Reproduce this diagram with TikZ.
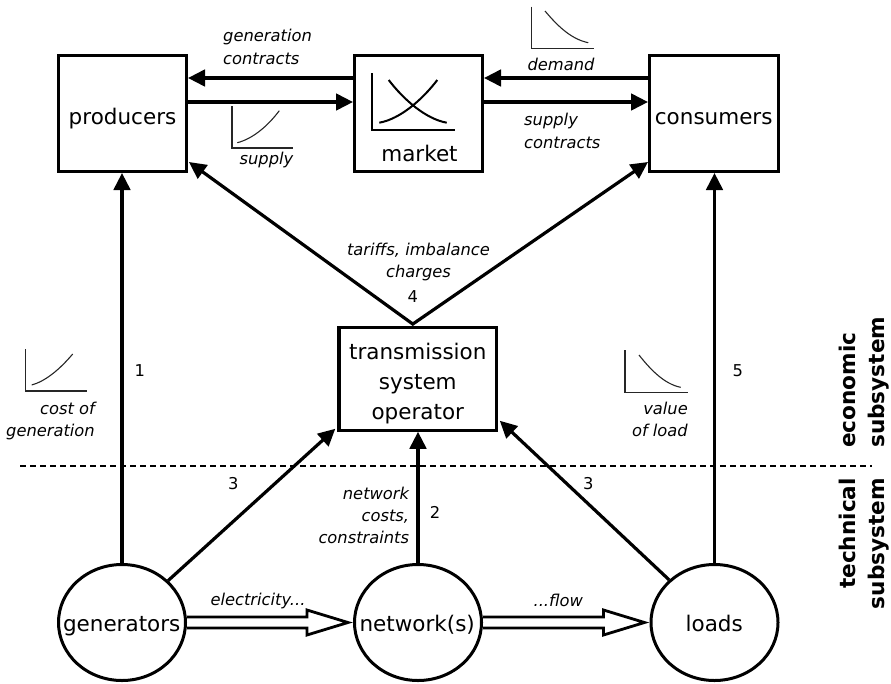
\documentclass[tikz,border=0pt]{standalone}
\usepackage{fontspec}
\setmainfont{DejaVu Sans}[ItalicFont={DejaVu Sans Oblique},BoldFont={DejaVu Sans Bold}]
\usetikzlibrary{arrows.meta,calc,shapes.geometric}

\begin{document}
\begin{tikzpicture}[x=1pt,y=-1pt,
  box/.style={draw, line width=3.2pt, minimum width=127.8pt, minimum height=115.8pt, inner sep=0pt},
  blob/.style={draw, ellipse, line width=3pt, minimum width=127pt, minimum height=116pt, inner sep=0pt},
  lbl/.style={font=\fontsize{21.5}{30}\selectfont, inner sep=0pt},
  note/.style={font=\fontsize{16.3}{22.3}\selectfont\itshape, inner sep=0pt},
  num/.style={font=\fontsize{16.3}{20}\selectfont, inner sep=0pt},
  side/.style={font=\fontsize{21.6}{29.5}\selectfont\bfseries, inner sep=0pt, rotate=90},
  tip/.tip={Triangle[length=17pt,width=16.5pt]},
  arr/.style={line width=3.2pt, -tip},
  flow/.style={line width=2.8pt, line join=miter, miter limit=10},
  axis/.style={line width=1.1pt, black!85},
  curve/.style={line width=1.1pt, black!85},
  mkt/.style={line width=2pt},
]
\useasboundingbox (0,0) rectangle (891,683);

% boxes of the economic subsystem
\node[box] (prod) at (122.5,113.5) {};
\node[box] (mkt) at (418.5,113.5) {};
\node[box, minimum width=128.8pt] (cons) at (714,113.5) {};
\node[box, minimum width=157.8pt, minimum height=102.5pt] (tso) at (417.8,378.9) {};

% technical components
\node[blob] (gen) at (122,622.5) {};
\node[blob] (net) at (418,622.5) {};
\node[blob] (loads) at (714.5,622.5) {};

% main labels
\node[lbl, anchor=base] (prodtxt) at (122.5,124) {producers};
\node[lbl, anchor=base] (mkttxt) at (419.5,161.7) {market};
\node[lbl, anchor=base] (constxt) at (713.7,124) {consumers};
\node[lbl, anchor=north, align=center] (tsotxt) at (417.8,343) {transmission\\system\\operator};
\node[lbl, anchor=base] (gentxt) at (121.7,631.7) {generators};
\node[lbl, anchor=base] (nettxt) at (417.2,631.7) {network(s)};
\node[lbl, anchor=base] (loadtxt) at (714.2,631.7) {loads};

% contract flows between producers, market and consumers
\draw[arr] ($(mkt.west)+(0,-35.5)$) -- ($(prod.east)+(0,-35.5)$);
\draw[arr] ($(prod.east)+(0,-11.5)$) -- ($(mkt.west)+(0,-11.5)$);
\draw[arr] ($(cons.west)+(0,-35.5)$) -- ($(mkt.east)+(0,-35.5)$);
\draw[arr] ($(mkt.east)+(0,-11.5)$) -- ($(cons.west)+(0,-11.5)$);

% vertical links
\draw[arr] (gen.north) -- (gen.north |- prod.south);
\draw[arr] (loads.north) -- (loads.north |- cons.south);
\draw[arr] (net.north) -- (net.north |- tso.south);

% TSO towards producers and consumers
\coordinate (apex) at ($(tso.north)+(-5,-2)$);
\draw[line width=3.2pt, tip-tip, line join=miter]
  ($(prod.south east)+(1,-11)$) -- (apex) -- ($(cons.south west)+(0,-11)$);

% generators and loads towards the TSO
\draw[arr] (gen) -- ($(tso.south west)+(-2,-3)$);
\draw[arr] (loads) -- ($(tso.south east)+(1.5,-11)$);

% physical electricity flow (hollow double arrows)
\draw[flow] ($(gen.east)+(0,-5.5)$) -- ($(net.west)+(-46,-5.5)$) -- ($(net.west)+(-46,-12.5)$)
  -- ($(net.west)+(-5,0)$) -- ($(net.west)+(-46,12.5)$) -- ($(net.west)+(-46,5.5)$)
  -- ($(gen.east)+(0,5.5)$);
\draw[flow] ($(net.east)+(0,-5.5)$) -- ($(loads.west)+(-46,-5.5)$) -- ($(loads.west)+(-46,-12.5)$)
  -- ($(loads.west)+(-5,0)$) -- ($(loads.west)+(-46,12.5)$) -- ($(loads.west)+(-46,5.5)$)
  -- ($(net.east)+(0,5.5)$);

% subsystem boundary
\coordinate (dl) at (20,466);
\coordinate (dr) at (872,466);
\draw[line width=1.1pt, dash pattern=on 6pt off 4pt] (dl) -- (dr);

% small curve sketches
\draw[mkt] (371.7,73.3) -- (371.7,130) -- (455,130);
\draw[mkt] (379.3,122.7) .. controls (400,119) and (422,100) .. (437.3,80);
\draw[mkt] (446.7,122.7) .. controls (426,119) and (404,100) .. (388.7,80);

\draw[axis] (232,106) -- (232,148) -- (293,148);
\draw[curve] (237.3,142.7) .. controls (252,139) and (267,127) .. (279.3,110.7);

\draw[axis] (531.7,6.7) -- (531.7,48.3) -- (594.3,48.3);
\draw[curve] (545,11) .. controls (556,24) and (570,39) .. (588.3,42.7);

\draw[axis] (25.7,349.3) -- (25.7,391) -- (86.7,391);
\draw[curve] (31.7,385) .. controls (46,381) and (60,369) .. (72.7,354);

\draw[axis] (625,350) -- (625,392.3) -- (687.7,392.3);
\draw[curve] (639,355) .. controls (650,369) and (664,384) .. (680.7,387.3);

% italic annotations
\node[note, anchor=north west, align=left] (gc) at (223,29.3) {generation\\contracts};
\node[note, anchor=base] (dem) at (561,70.7) {demand};
\node[note, anchor=base east] (sup) at (293.5,164.1) {supply};
\node[note, anchor=north west, align=left] (sc) at (524,113.3) {supply\\contracts};
\node[note, anchor=north, align=center] (tar) at (418.5,242.7) {tariffs, imbalance\\charges};
\node[note, anchor=north east, align=right] (cog) at (95,401.7) {cost of\\generation};
\node[note, anchor=north east, align=right] (vol) at (688,401.7) {value\\of load};
\node[note, anchor=north east, align=right] (ncc) at (409.3,486.7) {network\\costs,\\constraints};
\node[note, anchor=base] (elec) at (258,605.7) {electricity...};
\node[note, anchor=base] (flw) at (558.3,606.7) {...flow};

% link numbers
\node[num] (n1) at (139.7,370.8) {1};
\node[num] (n2) at (435,512.5) {2};
\node[num] (n3a) at (233.3,483.8) {3};
\node[num] (n3b) at (588.3,483.8) {3};
\node[num] (n4) at (412.7,296.7) {4};
\node[num] (n5) at (737.8,370.8) {5};

% subsystem names
\node[side, anchor=north west, align=left] (eco) at (838.6,448) {economic\\subsystem};
\node[side, anchor=north east, align=right] (tech) at (838.6,478) {technical\\subsystem};
\end{tikzpicture}
\end{document}
